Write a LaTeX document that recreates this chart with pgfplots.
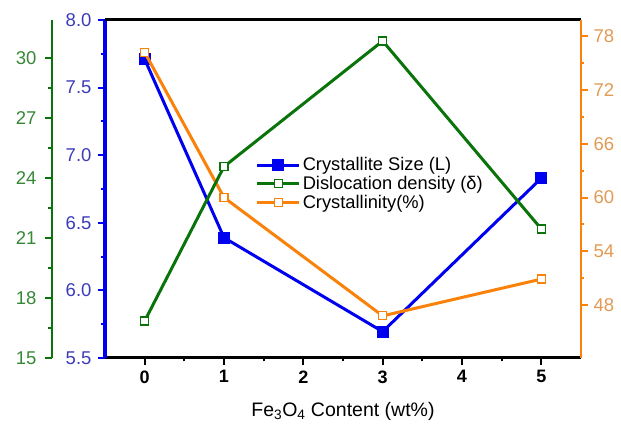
\documentclass[border=0pt]{standalone}
\usepackage{pgfplots}
\pgfplotsset{compat=1.18}
\usepackage{fontspec}
\setmainfont{Liberation Sans}
\definecolor{cblue}{RGB}{0,0,240}
\definecolor{cgreen}{RGB}{10,115,10}
\definecolor{corange}{RGB}{250,130,10}
\definecolor{tblue}{RGB}{60,60,185}
\definecolor{tgreen}{RGB}{55,135,55}
\definecolor{torange}{RGB}{225,155,85}
\pgfplotsset{
  base/.style={
    width=476pt, height=338pt, scale only axis,
    at={(0pt,0pt)}, anchor=south west,
    xmin=-0.5, xmax=5.5,
    tick align=outside,
    major tick length=7pt, minor tick length=3.5pt,
    /pgf/number format/assume math mode=true,
    tick label style={font=\fontsize{18.5}{20}\selectfont},
    clip=false,
  },
}
\begin{document}
\begin{tikzpicture}
\begin{axis}[base,
  axis x line*=bottom, axis y line*=left,
  ymin=5.5, ymax=8,
  ytick={5.5,6,6.5,7,7.5,8},
  minor y tick num=1,
  xtick={0,1,2,3,4,5}, minor x tick num=1,
  x axis line style={black, line width=3pt, -},
  y axis line style={cblue, line width=3.5pt, -},
  xtick style={black, line width=2pt},
  ytick style={cblue, line width=2pt},
  x tick label style={font=\fontsize{18}{20}\selectfont\bfseries, yshift=-2pt},
  y tick label style={tblue, xshift=-3pt},
  yticklabel style={/pgf/number format/.cd, fixed, fixed zerofill, precision=1},
  xlabel={Fe\textsubscript{3}O\textsubscript{4} Content (wt\%)},
  xlabel style={font=\fontsize{19.5}{22}\selectfont, yshift=-12pt},
]
\addplot[cblue, line width=3pt, mark=square*, mark size=4.5pt, mark options={fill=cblue}] coordinates {(0,7.71) (1,6.39) (3,5.695) (5,6.83)};
\draw[black, line width=3pt] (rel axis cs:0,1) -- (rel axis cs:1,1);
\end{axis}
\begin{axis}[base,
  axis x line=none, axis y line*=right,
  ymin=42.1, ymax=79.8,
  ytick={48,54,60,66,72,78}, minor y tick num=1,
  y axis line style={corange, line width=2.5pt, -},
  ytick style={corange, line width=2pt},
  y tick label style={torange, xshift=2pt},
]
\addplot[corange, line width=3pt, mark=square*, mark size=4pt, mark options={fill=white, line width=1.2pt}] coordinates {(0,76.2) (1,60.0) (3,46.8) (5,50.9)};
\end{axis}
\begin{axis}[base,
  axis x line=none, axis y line*=left, axis y line shift=53pt,
  ymin=15, ymax=31.9,
  ytick={15,18,21,24,27,30}, minor y tick num=1,
  y axis line style={cgreen, line width=2.5pt, -},
  ytick style={cgreen, line width=2pt},
  y tick label style={tgreen, xshift=-5pt},
  legend style={draw=none, fill=none, at={(0.31,0.605)}, anchor=north west,
    font=\fontsize{18.3}{22}\selectfont, row sep=0pt},
  legend cell align=left,
  legend image code/.code={\draw[mark repeat=2,mark phase=2] plot coordinates {(0pt,0pt) (21pt,0pt) (42pt,0pt)};},
]
\addlegendimage{cblue, line width=3pt, mark=square*, mark size=4.5pt, mark options={fill=cblue}}
\addlegendentry{Crystallite Size (L)}
\addplot[cgreen, line width=3pt, mark=square*, mark size=4pt, mark options={fill=white, line width=1.2pt}] coordinates {(0,16.85) (1,24.57) (3,30.85) (5,21.45)};
\addlegendentry{Dislocation density (δ)}
\addlegendimage{corange, line width=3pt, mark=square*, mark size=4pt, mark options={fill=white, line width=1.2pt}}
\addlegendentry{Crystallinity(\%)}
\end{axis}
\pgfresetboundingbox
\path[use as bounding box] (-105pt,-69pt) rectangle (516pt,358pt);
\end{tikzpicture}
\end{document}
